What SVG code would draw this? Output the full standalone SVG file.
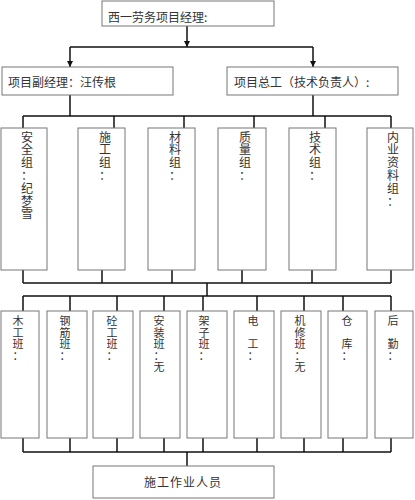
<svg xmlns="http://www.w3.org/2000/svg" width="415" height="500" viewBox="0 0 415 500">
<style>
.box{fill:#fff;stroke:#777;stroke-width:1}
.t{font-family:"Noto Sans CJK SC","Noto Sans CJK JP",sans-serif;font-size:12px;fill:#333}
.v{font-family:"Noto Sans CJK SC","Noto Sans CJK JP",sans-serif;font-size:12px;fill:#333;text-anchor:middle}
.s{font-family:"Noto Sans CJK SC","Noto Sans CJK JP",sans-serif;font-size:11px;fill:#333;text-anchor:middle}
.c{fill:none;stroke:#111;stroke-width:1.5}
</style>
<defs>
<marker id="ah" viewBox="0 0 10 10" refX="10" refY="5" markerWidth="4" markerHeight="4" orient="auto" markerUnits="strokeWidth">
<path d="M0,0 L10,5 L0,10 z" fill="#111"/>
</marker>
</defs>
<rect width="415" height="500" fill="#fff"/>
<g id="connectors">
<line class="c" x1="187" y1="26" x2="187" y2="47" marker-end="url(#ah)"/>
<line class="c" x1="70" y1="47" x2="313" y2="47"/>
<line class="c" x1="70" y1="47" x2="70" y2="67" marker-end="url(#ah)"/>
<line class="c" x1="313" y1="47" x2="313" y2="67" marker-end="url(#ah)"/>
<path class="c" d="M70,95 V116 M313,95 V116 M23,116 H391 M23,116 V128 M114,116 V128 M184,116 V128 M254,116 V128 M325,116 V128 M391,116 V128"/>
<path class="c" d="M23,270 V283 M102,270 V283 M172,270 V283 M242,270 V283 M312,270 V283 M391,270 V283 M23,283 H391 M207,283 V296 M23,296 H391"/>
<path class="c" d="M23,296 V311 M70,296 V311 M117,296 V311 M164,296 V311 M203,296 V311 M257,296 V311 M304,296 V311 M343,296 V311 M391,296 V311"/>
<path class="c" d="M23,438 V452 M70,438 V452 M117,438 V452 M164,438 V452 M203,438 V452 M257,438 V452 M304,438 V452 M343,438 V452 M391,438 V452 M23,452 H391 M187,452 V466"/>
</g>
<g id="n-top"><rect class="box" x="102" y="1" width="172" height="25"/><text class="t" x="108" y="22">西一劳务项目经理:</text></g>
<g id="n-deputy"><rect class="box" x="2" y="67" width="171" height="28"/><text class="t" x="8" y="86.5">项目副经理：汪传根</text></g>
<g id="n-chief"><rect class="box" x="227" y="67" width="171" height="28"/><text class="t" x="234" y="86.5">项目总工（技术负责人）:</text></g>

<g id="g-safety"><rect class="box" x="1" y="128" width="46" height="142"/>
<text class="v"><tspan x="27" y="141.5">安</tspan><tspan x="27" dy="12.8">全</tspan><tspan x="27" dy="12.8">组</tspan><tspan x="27" dy="12.8">：</tspan><tspan x="27" dy="12.8">纪</tspan><tspan x="27" dy="12.8">梦</tspan><tspan x="27" dy="12.8">雪</tspan></text></g>
<g id="g-construction"><rect class="box" x="78" y="128" width="47" height="142"/>
<text class="v"><tspan x="105" y="141.5">施</tspan><tspan x="105" dy="12.8">工</tspan><tspan x="105" dy="12.8">组</tspan><tspan x="105" dy="12.8">：</tspan></text></g>
<g id="g-material"><rect class="box" x="148" y="128" width="47" height="142"/>
<text class="v"><tspan x="175" y="141.5">材</tspan><tspan x="175" dy="12.8">料</tspan><tspan x="175" dy="12.8">组</tspan><tspan x="175" dy="12.8">：</tspan></text></g>
<g id="g-quality"><rect class="box" x="218" y="128" width="48" height="142"/>
<text class="v"><tspan x="245" y="141.5">质</tspan><tspan x="245" dy="12.8">量</tspan><tspan x="245" dy="12.8">组</tspan><tspan x="245" dy="12.8">：</tspan></text></g>
<g id="g-tech"><rect class="box" x="289" y="128" width="47" height="142"/>
<text class="v"><tspan x="315" y="141.5">技</tspan><tspan x="315" dy="12.8">术</tspan><tspan x="315" dy="12.8">组</tspan><tspan x="315" dy="12.8">：</tspan></text></g>
<g id="g-docs"><rect class="box" x="367" y="128" width="46" height="142"/>
<text class="v"><tspan x="393" y="141.5">内</tspan><tspan x="393" dy="12.8">业</tspan><tspan x="393" dy="12.8">资</tspan><tspan x="393" dy="12.8">料</tspan><tspan x="393" dy="12.8">组</tspan><tspan x="393" dy="12.8">：</tspan></text></g>

<g id="t-carpenter"><rect class="box" x="1" y="311" width="38" height="127"/>
<text class="s"><tspan x="18" y="325">木</tspan><tspan x="18" dy="11.6">工</tspan><tspan x="18" dy="11.6">班</tspan><tspan x="18" dy="11.6">：</tspan></text></g>
<g id="t-rebar"><rect class="box" x="47" y="311" width="40" height="127"/>
<text class="s"><tspan x="65" y="325">钢</tspan><tspan x="65" dy="11.6">筋</tspan><tspan x="65" dy="11.6">班</tspan><tspan x="65" dy="11.6">：</tspan></text></g>
<g id="t-concrete"><rect class="box" x="93" y="311" width="40" height="127"/>
<text class="s"><tspan x="112" y="325">砼</tspan><tspan x="112" dy="11.6">工</tspan><tspan x="112" dy="11.6">班</tspan><tspan x="112" dy="11.6">：</tspan></text></g>
<g id="t-install"><rect class="box" x="140" y="311" width="40" height="127"/>
<text class="s"><tspan x="159" y="325">安</tspan><tspan x="159" dy="11.6">装</tspan><tspan x="159" dy="11.6">班</tspan><tspan x="159" dy="11.6">：</tspan><tspan x="159" dy="11.6">无</tspan></text></g>
<g id="t-scaffold"><rect class="box" x="187" y="311" width="40" height="127"/>
<text class="s"><tspan x="204" y="325">架</tspan><tspan x="204" dy="11.6">子</tspan><tspan x="204" dy="11.6">班</tspan><tspan x="204" dy="11.6">：</tspan></text></g>
<g id="t-electric"><rect class="box" x="234" y="311" width="40" height="127"/>
<text class="s"><tspan x="253" y="325">电</tspan><tspan x="253" dy="23.2">工</tspan><tspan x="253" dy="11.6">：</tspan></text></g>
<g id="t-repair"><rect class="box" x="281" y="311" width="40" height="127"/>
<text class="s"><tspan x="300" y="325">机</tspan><tspan x="300" dy="11.6">修</tspan><tspan x="300" dy="11.6">班</tspan><tspan x="300" dy="11.6">：</tspan><tspan x="300" dy="11.6">无</tspan></text></g>
<g id="t-store"><rect class="box" x="328" y="311" width="39" height="127"/>
<text class="s"><tspan x="347" y="325">仓</tspan><tspan x="347" dy="23.2">库</tspan><tspan x="347" dy="11.6">：</tspan></text></g>
<g id="t-logistics"><rect class="box" x="375" y="311" width="38" height="127"/>
<text class="s"><tspan x="393" y="325">后</tspan><tspan x="393" dy="23.2">勤</tspan><tspan x="393" dy="11.6">：</tspan></text></g>

<g id="n-workers"><rect class="box" x="93" y="466" width="181" height="32"/><text class="t" x="183" y="487" text-anchor="middle" letter-spacing="1">施工作业人员</text></g>
</svg>
